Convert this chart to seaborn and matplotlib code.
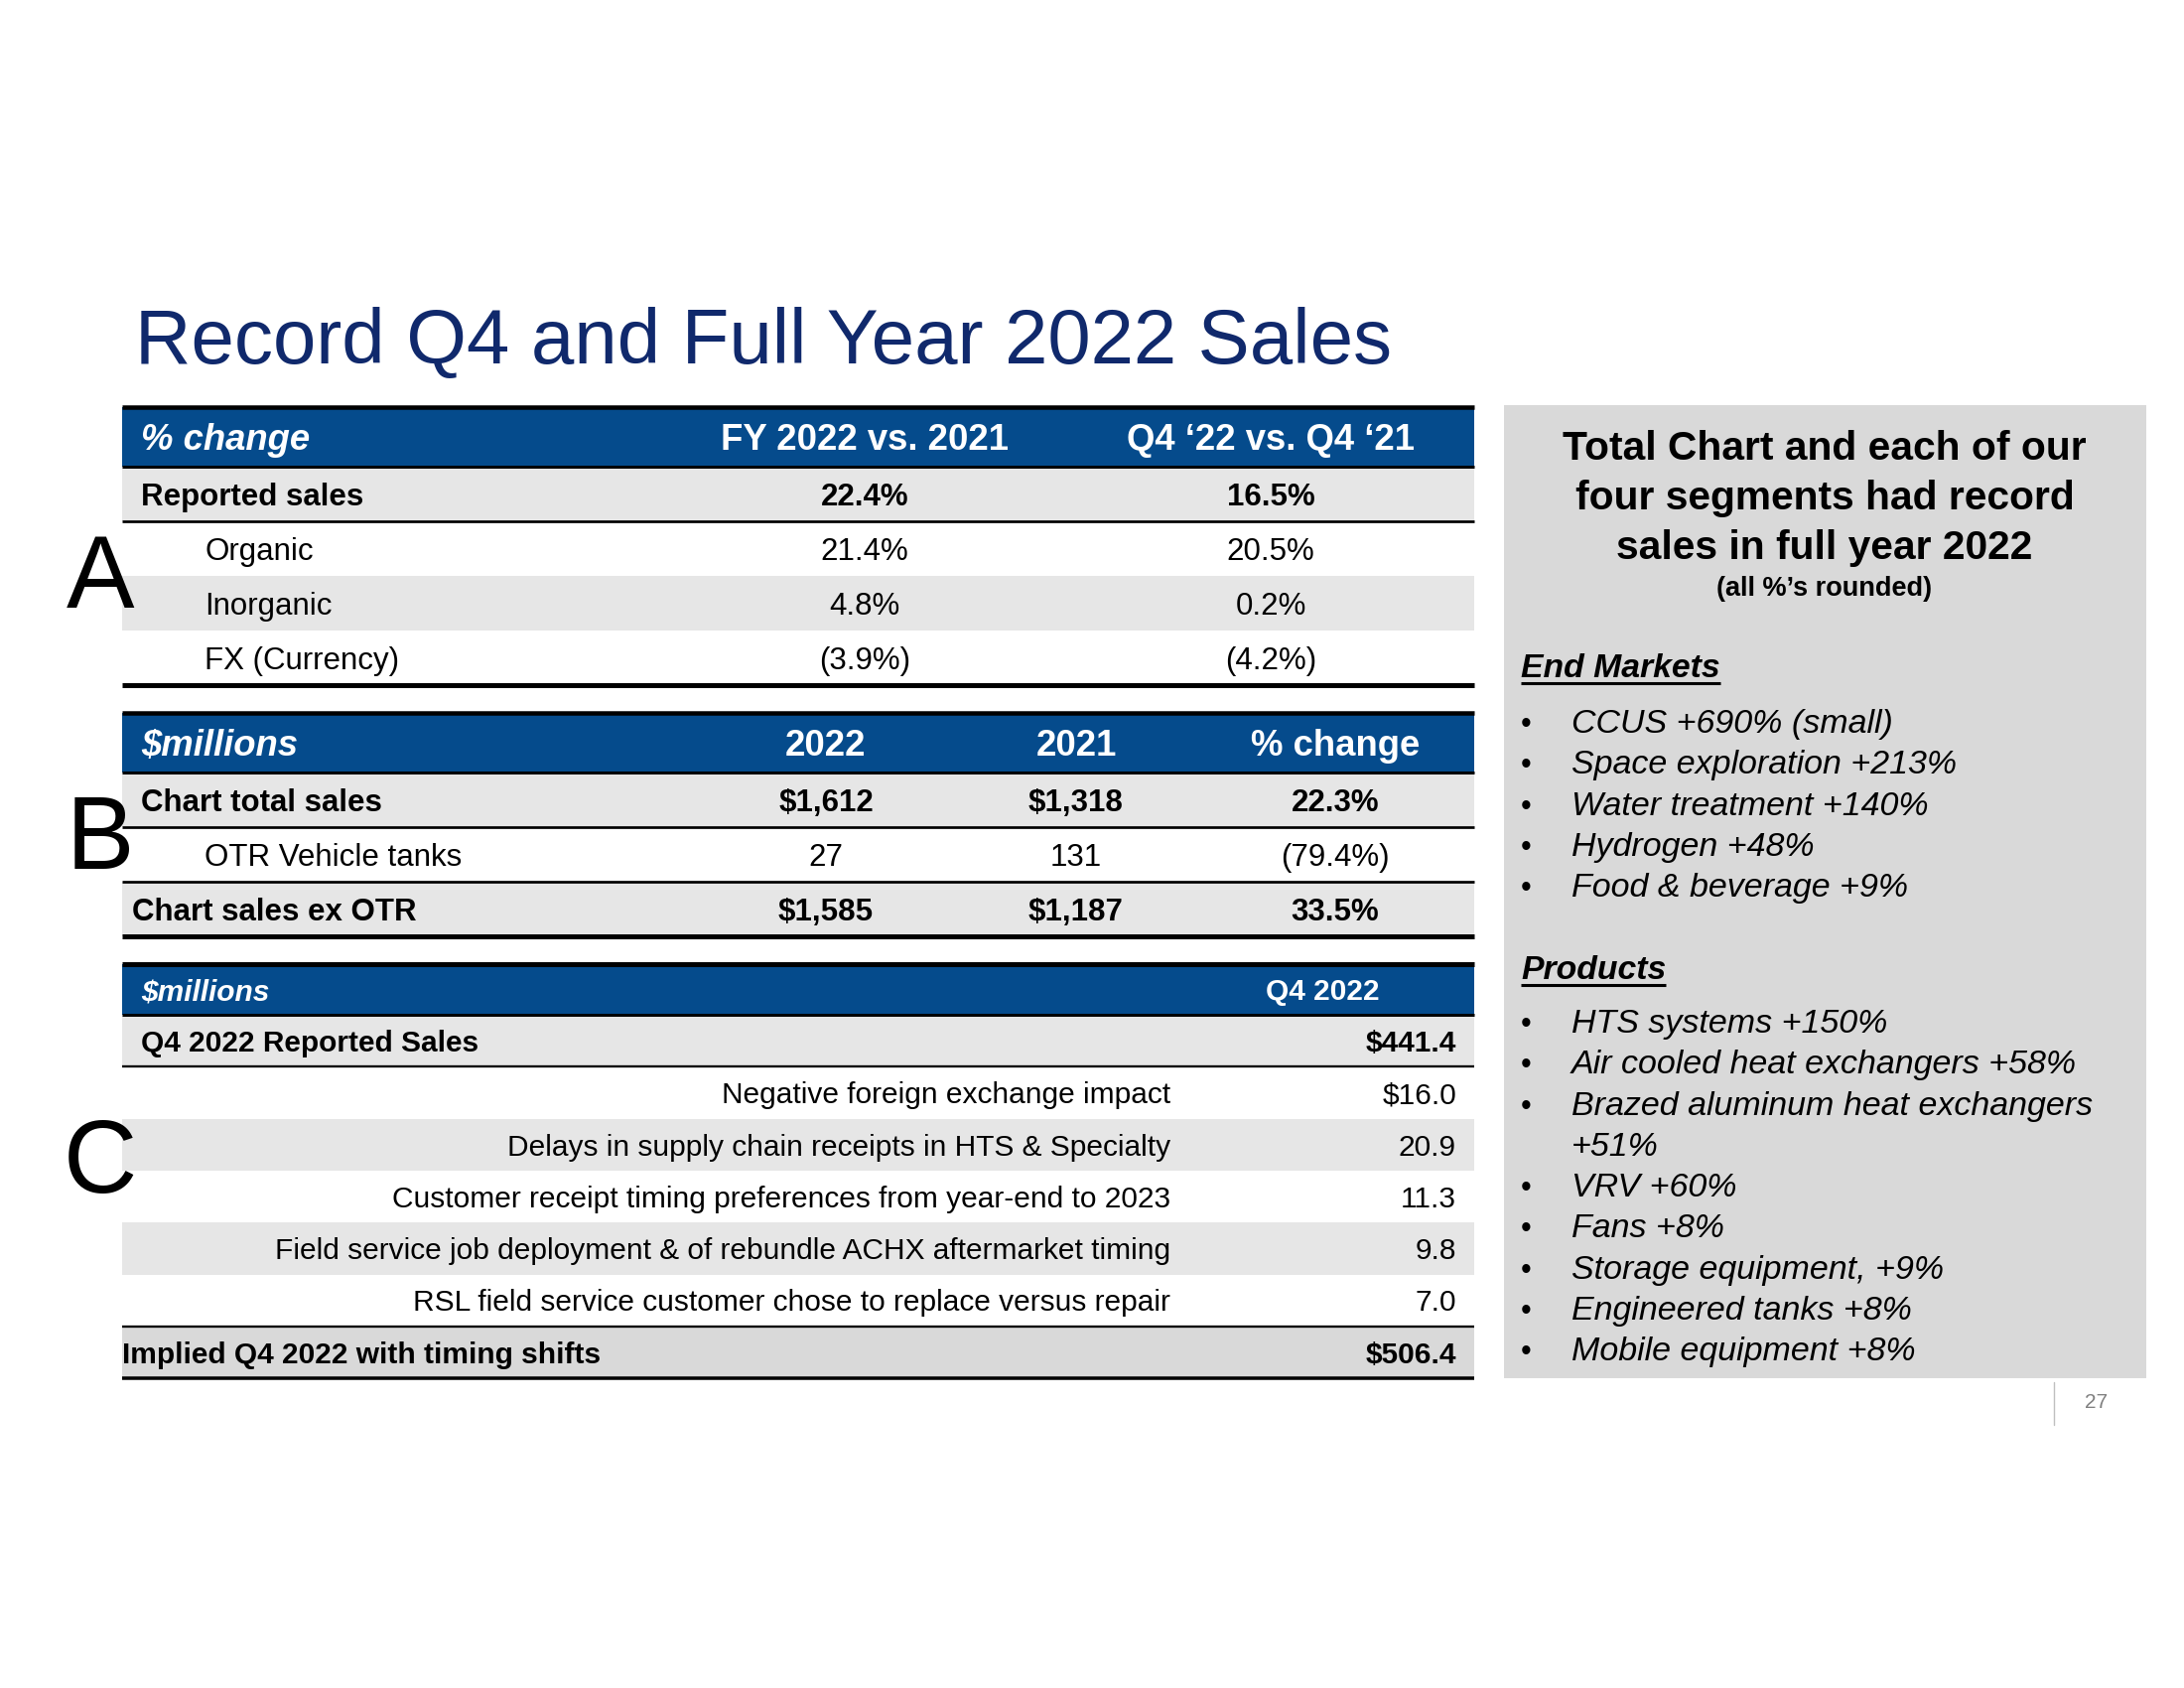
import textwrap
import seaborn as sns
import matplotlib
matplotlib.use("Agg")
import matplotlib.pyplot as plt
from matplotlib.patches import Rectangle

sns.set_theme(style="white")
plt.rcParams["font.family"] = ["Liberation Sans", "DejaVu Sans"]
plt.rcParams["text.color"] = "black"

# ---- data ----
title = "Record Q4 and Full Year 2022 Sales"

pct_header = ["% change", "FY 2022 vs. 2021", "Q4 \u201822 vs. Q4 \u201821"]
pct_rows = ["Reported sales", "Organic", "Inorganic", "FX (Currency)"]
pct_fy = [22.4, 21.4, 4.8, -3.9]
pct_q4 = [16.5, 20.5, 0.2, -4.2]

sales_header = ["$millions", "2022", "2021", "% change"]
sales_rows = ["Chart total sales", "OTR Vehicle tanks", "Chart sales ex OTR"]
sales_2022 = [1612, 27, 1585]
sales_2021 = [1318, 131, 1187]
sales_chg = [22.3, -79.4, 33.5]

bridge_header = ["$millions", "Q4 2022"]
bridge_rows = ["Q4 2022 Reported Sales",
               "Negative foreign exchange impact",
               "Delays in supply chain receipts in HTS & Specialty",
               "Customer receipt timing preferences from year-end to 2023",
               "Field service job deployment & of rebundle ACHX aftermarket timing",
               "RSL field service customer chose to replace versus repair",
               "Implied Q4 2022 with timing shifts"]
bridge_vals = [441.4, 16.0, 20.9, 11.3, 9.8, 7.0, 506.4]

panel_title = "Total Chart and each of our four segments had record sales in full year 2022"
panel_note = "(all %\u2019s rounded)"
end_markets = ["CCUS +690% (small)", "Space exploration +213%", "Water treatment +140%",
               "Hydrogen +48%", "Food & beverage +9%"]
products = ["HTS systems +150%", "Air cooled heat exchangers +58%",
            "Brazed aluminum heat exchangers +51%", "VRV +60%", "Fans +8%",
            "Storage equipment, +9%", "Engineered tanks +8%", "Mobile equipment +8%"]
page_no = "27"

# ---- style ----
NAVY = "#10296C"
BLUE = "#054B8C"
GRAY = "#E6E6E6"
DGRAY = "#D9D9D9"
X0, X1 = 123, 1485
HDR_FS, ROW_FS, C_FS = 26.3, 22.5, 21.5


def pct(v):
    return f"{v:.1f}%" if v >= 0 else f"({-v:.1f}%)"


fig = plt.figure(figsize=(22, 17), dpi=100)
ax = fig.add_axes([0, 0, 1, 1])
ax.set_xlim(0, 2200)
ax.set_ylim(1700, 0)
ax.axis("off")


def band(y0, y1, color):
    ax.add_patch(Rectangle((X0, y0), X1 - X0, y1 - y0, color=color, lw=0, zorder=1))


def hline(y, px):
    ax.plot([X0, X1], [y, y], color="black", lw=px * 0.72, solid_capstyle="butt", zorder=3)


def txt(x, yc, s, size, ha="left", bold=False, italic=False, color="black"):
    # yc is the row centre; baseline sits half a cap height below it
    ax.text(x, yc + size * 0.5, s, fontsize=size, ha=ha, va="baseline", color=color,
            fontweight="bold" if bold else "normal",
            fontstyle="italic" if italic else "normal", zorder=4)


ax.text(136, 366, title, fontsize=56.2, color=NAVY, va="baseline", ha="left")

# ---- table A ----
top, hdr, rh = 410, 470, 55
band(top, hdr, BLUE)
cols_a = [871, 1280]
txt(142, (top + hdr) / 2, pct_header[0], HDR_FS, bold=True, italic=True, color="white")
for cx, h in zip(cols_a, pct_header[1:]):
    txt(cx, (top + hdr) / 2, h, HDR_FS, ha="center", bold=True, color="white")
for i, (lab, a, b) in enumerate(zip(pct_rows, pct_fy, pct_q4)):
    y0 = hdr + i * rh
    if i in (0, 2):
        band(y0, y0 + rh, GRAY)
    bold = i == 0
    yc = y0 + rh / 2
    txt(142 if bold else 206, yc, lab, ROW_FS, bold=bold)
    txt(cols_a[0], yc, pct(a), ROW_FS, ha="center", bold=bold)
    txt(cols_a[1], yc, pct(b), ROW_FS, ha="center", bold=bold)
hline(top, 4.5)
hline(hdr, 3)
hline(hdr + rh, 2.7)
hline(hdr + len(pct_rows) * rh, 5)

# ---- table B ----
top, hdr, rh = 718, 778, 55
band(top, hdr, BLUE)
cols_b = [832, 1084, 1345]
txt(142, (top + hdr) / 2, sales_header[0], HDR_FS, bold=True, italic=True, color="white")
for cx, h in zip(cols_b, sales_header[1:]):
    txt(cx, (top + hdr) / 2, h, HDR_FS, ha="center", bold=True, color="white")
for i, lab in enumerate(sales_rows):
    y0 = hdr + i * rh
    yc = y0 + rh / 2
    total = i != 1
    if total:
        band(y0, y0 + rh, GRAY)
        v22, v21 = f"${sales_2022[i]:,}", f"${sales_2021[i]:,}"
    else:
        v22, v21 = f"{sales_2022[i]:,}", f"{sales_2021[i]:,}"
    lx = 142 if i == 0 else (206 if i == 1 else 133)
    txt(lx, yc, lab, ROW_FS, bold=total)
    for cx, s in zip(cols_b, [v22, v21, pct(sales_chg[i])]):
        txt(cx, yc, s, ROW_FS, ha="center", bold=total)
    hline(y0, 2.7 if i else 3)
hline(hdr + len(sales_rows) * rh, 5)
hline(top, 4.5)

# ---- table C ----
top, hdr, rh = 971, 1022, 52.3
band(top, hdr, BLUE)
txt(142, (top + hdr) / 2, bridge_header[0], C_FS, bold=True, italic=True, color="white")
txt(1332, (top + hdr) / 2, bridge_header[1], C_FS, ha="center", bold=True, color="white")
n = len(bridge_rows)
for i, (lab, v) in enumerate(zip(bridge_rows, bridge_vals)):
    y0 = hdr + i * rh
    yc = y0 + rh / 2
    edge = i in (0, n - 1)
    if i == n - 1:
        band(y0, y0 + rh, DGRAY)
    elif i % 2 == 0:
        band(y0, y0 + rh, GRAY)
    s = f"${v:.1f}" if (edge or i == 1) else f"{v:.1f}"
    if i == 0:
        txt(142, yc, lab, C_FS, bold=True)
    elif i == n - 1:
        txt(X0, yc, lab, C_FS, bold=True)
    else:
        txt(1179, yc, lab, C_FS, ha="right")
    txt(1467, yc, s, C_FS, ha="right", bold=edge)
hline(top, 5)
hline(hdr, 3)
hline(hdr + rh, 2.3)
hline(hdr + (n - 1) * rh, 2.3)
hline(hdr + n * rh, 3.5)

# ---- section letters ----
for letter, base in zip("ABC", [612, 875, 1201]):
    ax.text(101, base, letter, fontsize=74, ha="center", va="baseline", zorder=5)

# ---- right panel ----
ax.add_patch(Rectangle((1515, 408), 2162 - 1515, 1388 - 408, color=DGRAY, lw=0, zorder=0))
for k, line in enumerate(textwrap.wrap(panel_title, 27)):
    ax.text(1838, 463 + k * 50, line, fontsize=29.3, fontweight="bold", ha="center", va="baseline")
ax.text(1838, 600, panel_note, fontsize=19.5, fontweight="bold", ha="center", va="baseline")

fig.canvas.draw()
inv = ax.transData.inverted()


def heading(y, s):
    t = ax.text(1532, y, s, fontsize=24.3, fontweight="bold", fontstyle="italic", va="baseline")
    bb = t.get_window_extent(renderer=fig.canvas.get_renderer())
    xa = inv.transform((bb.x0, 0))[0]
    xb = inv.transform((bb.x1, 0))[0]
    ax.plot([xa, xb], [y + 6, y + 6], color="black", lw=2.2, solid_capstyle="butt")


def bullets(y, items, step=41.3):
    for it in items:
        lines = textwrap.wrap(it, 33)
        ax.text(1537, y, "\u2022", fontsize=22, ha="center", va="baseline")
        for ln in lines:
            ax.text(1583, y, ln, fontsize=24.5, fontstyle="italic", va="baseline")
            y += step
    return y


heading(682, "End Markets")
bullets(738, end_markets)
heading(986, "Products")
bullets(1040, products)

# page number
ax.plot([2069, 2069], [1392, 1435], color="#BFBFBF", lw=1)
ax.text(2112, 1418, page_no, fontsize=15, color="#808080", ha="center", va="baseline")

fig.savefig("out.png", dpi=100, facecolor="white")
